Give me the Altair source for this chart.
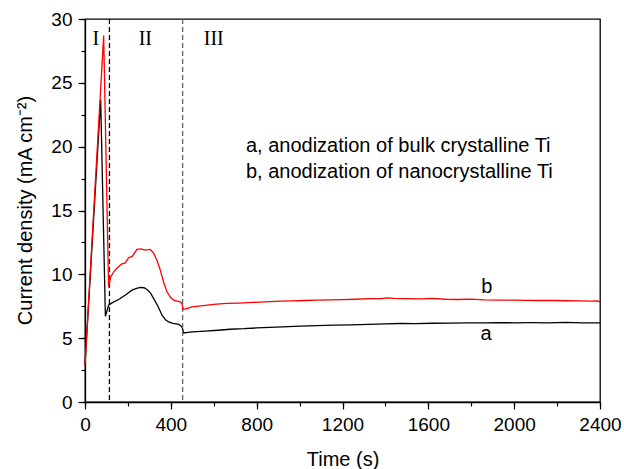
import altair as alt
import pandas as pd

# Current transients recorded during anodization (time in s, current density in mA/cm^2)
time_a = [0, 73, 95, 110, 130, 157, 190, 219, 240, 258, 275, 289, 305, 320, 340, 359, 375,
          390, 410, 437, 452, 460, 499, 560, 620, 676, 740, 800, 860, 920, 1002, 1080, 1160,
          1240, 1320, 1400, 1468, 1540, 1620, 1700, 1780, 1860, 1934, 2000, 2080, 2160,
          2240, 2320, 2400]
current_a = [2.9, 23.7, 6.72, 7.58, 7.8, 8.03, 8.4, 8.76, 8.9, 8.97, 8.95, 8.81, 8.55, 8.1,
             7.5, 6.8, 6.45, 6.27, 6.15, 6.09, 5.88, 5.41, 5.49, 5.55, 5.62, 5.7, 5.74, 5.8,
             5.85, 5.88, 5.94, 5.98, 6.02, 6.04, 6.08, 6.12, 6.15, 6.14, 6.17, 6.18, 6.2,
             6.19, 6.22, 6.2, 6.21, 6.2, 6.23, 6.2, 6.2]

time_b = [0, 87, 110, 120, 134, 150, 170, 188, 203, 220, 242, 260, 280, 304, 320, 335, 351,
          366, 382, 398, 413, 430, 444, 452, 457, 470, 499, 550, 600, 660, 720, 780, 840,
          909, 960, 1020, 1080, 1142, 1200, 1260, 1320, 1380, 1406, 1440, 1500, 1560, 1620,
          1680, 1740, 1800, 1860, 1934, 2000, 2060, 2120, 2180, 2240, 2300, 2360, 2390, 2400]
current_b = [2.9, 28.7, 9.0, 9.8, 10.2, 10.5, 10.8, 10.9, 11.3, 11.4, 11.95, 12.0, 11.9,
             11.95, 11.66, 11.1, 10.33, 9.4, 8.63, 8.2, 7.98, 7.9, 7.84, 7.7, 7.25, 7.3,
             7.45, 7.55, 7.65, 7.72, 7.75, 7.8, 7.85, 7.9, 7.92, 7.95, 7.98, 8.0, 8.02, 8.05,
             8.1, 8.1, 8.16, 8.12, 8.1, 8.08, 8.12, 8.05, 8.03, 8.06, 8.0, 7.98, 7.98, 7.96,
             7.95, 7.95, 7.93, 7.92, 7.9, 7.92, 7.82]

# Boundaries between stages I, II and III
stage_bounds = [114, 455]
stage_colors = ["#000000", "#666666"]
stage_names = ["I", "II", "III"]
stage_label_t = [51, 281, 600]
stage_label_y = [28.45, 28.45, 28.45]

curve_names = ["a", "b"]
curve_label_t = [1869, 1873]
curve_label_y = [5.3, 9.0]

legend_lines = ["a, anodization of bulk crystalline Ti",
                "b, anodization of nanocrystalline Ti"]
legend_t = [750, 750]
legend_y = [20.05, 18.0]

x_major = [0, 400, 800, 1200, 1600, 2000, 2400]
x_minor = list(range(0, 2401, 200))
y_major = [0, 5, 10, 15, 20, 25, 30]
y_minor = [0, 2.5, 5, 7.5, 10, 12.5, 15, 17.5, 20, 22.5, 25, 27.5, 30]

SANS = "Liberation Sans"
SERIF = "Liberation Serif"

df_a = pd.DataFrame({"t": time_a, "j": current_a})
df_b = pd.DataFrame({"t": time_b, "j": current_b})
df_bounds = pd.DataFrame({"t": stage_bounds, "c": stage_colors})
df_stage = pd.DataFrame({"t": stage_label_t, "j": stage_label_y, "s": stage_names})
df_curve = pd.DataFrame({"t": curve_label_t, "j": curve_label_y, "s": curve_names})
df_legend = pd.DataFrame({"t": legend_t, "j": legend_y, "s": legend_lines})

xscale = alt.Scale(domain=[0, 2400], nice=False, zero=False)
yscale = alt.Scale(domain=[0, 30], nice=False)

x_axis = alt.Axis(values=x_major, format="d", title="Time (s)", orient="bottom",
                  grid=False, tickSize=7, tickWidth=1.2, tickColor="black",
                  domainColor="black", domainWidth=1.3, labelFont=SANS, labelFontSize=19,
                  labelColor="black", labelPadding=6, labelFlush=False,
                  titleFont=SANS, titleFontSize=20, titleFontWeight="normal",
                  titleColor="black", titleBaseline="alphabetic", titleY=63)
y_axis = alt.Axis(values=y_major, format="d", title="Current density (mA cm⁻²)",
                  orient="left", grid=False, tickSize=7, tickWidth=1.2, tickColor="black",
                  domainColor="black", domainWidth=1.3, labelFont=SANS, labelFontSize=19,
                  labelColor="black", labelPadding=6, labelFlush=False,
                  titleFont=SANS, titleFontSize=20, titleFontWeight="normal",
                  titleColor="black", titleAngle=-90, titleBaseline="alphabetic",
                  titleAlign="center", titleX=-54, titleY=191)

line_a = alt.Chart(df_a).mark_line(color="black", strokeWidth=1.3).encode(
    x=alt.X("t:Q", scale=xscale, axis=x_axis),
    y=alt.Y("j:Q", scale=yscale, axis=y_axis),
)
line_b = alt.Chart(df_b).mark_line(color="#ff0000", strokeWidth=1.3).encode(
    x=alt.X("t:Q", scale=xscale, axis=None),
    y=alt.Y("j:Q", scale=yscale, axis=None),
)

# Minor tick marks carried by a second, label-free axis pair
minor = alt.Chart(df_a).mark_point(opacity=0).encode(
    x=alt.X("t:Q", scale=xscale,
            axis=alt.Axis(values=x_minor, labels=False, domain=False, grid=False,
                          tickSize=4, tickWidth=1.2, tickColor="black", title=None,
                          orient="bottom")),
    y=alt.Y("j:Q", scale=yscale,
            axis=alt.Axis(values=y_minor, labels=False, domain=False, grid=False,
                          tickSize=4, tickWidth=1.2, tickColor="black", title=None,
                          orient="left")),
)

bounds = alt.Chart(df_bounds).mark_rule(strokeDash=[5, 3], strokeWidth=1.3).encode(
    x=alt.X("t:Q", scale=xscale, axis=None),
    color=alt.Color("c:N", scale=None),
)

stage_text = alt.Chart(df_stage).mark_text(font=SERIF, fontSize=20, color="black",
                                           baseline="middle").encode(
    x=alt.X("t:Q", scale=xscale, axis=None),
    y=alt.Y("j:Q", scale=yscale, axis=None),
    text="s:N",
)

curve_text = alt.Chart(df_curve).mark_text(font=SANS, fontSize=20, color="black",
                                           baseline="middle").encode(
    x=alt.X("t:Q", scale=xscale, axis=None),
    y=alt.Y("j:Q", scale=yscale, axis=None),
    text="s:N",
)

legend_text = alt.Chart(df_legend).mark_text(font=SANS, fontSize=20, color="black",
                                             align="left", baseline="middle").encode(
    x=alt.X("t:Q", scale=xscale, axis=None),
    y=alt.Y("j:Q", scale=yscale, axis=None),
    text="s:N",
)

chart = alt.layer(
    minor, line_a, bounds, line_b, stage_text, curve_text, legend_text
).resolve_axis(
    x="independent", y="independent"
).properties(
    width=515, height=383,
    autosize=alt.AutoSizeParams(type="none"),
    padding={"left": 85, "top": 19, "right": 24, "bottom": 67},
    background="white",
).configure_view(
    stroke="black", strokeWidth=1.3
)

chart.save("out.html", embed_options={"renderer": "svg", "actions": False})
